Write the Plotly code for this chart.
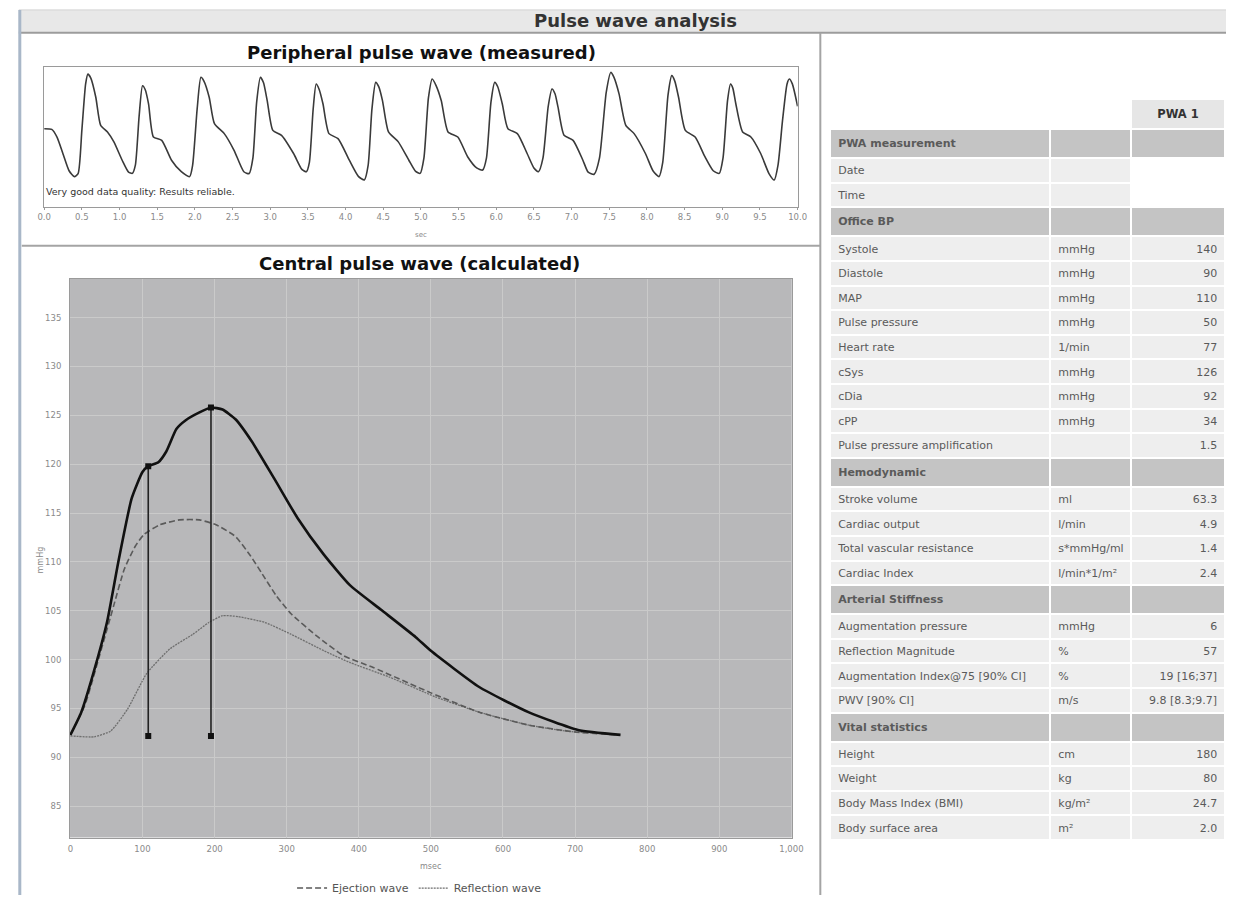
import plotly.graph_objects as go

W, H = 1238, 903
FONT = "DejaVu Sans"


def px(x):
    return x / W


def py(y):
    return 1 - y / H


# ---------------- Peripheral pulse wave (measured) ----------------
per_t = [0.00, 0.10, 0.17, 0.25, 0.33, 0.40, 0.45,
         0.50, 0.55, 0.58,
         0.62, 0.685, 0.75, 0.84, 0.925, 1.035, 1.12, 1.17,
         1.21, 1.26, 1.305,
         1.34, 1.385, 1.45, 1.56, 1.69, 1.82, 1.93,
         1.97, 2.03, 2.08,
         2.12, 2.19, 2.26, 2.39, 2.52, 2.65, 2.72,
         2.77, 2.82, 2.87,
         2.91, 2.96, 3.035, 3.15, 3.31, 3.42, 3.48,
         3.52, 3.57, 3.61,
         3.65, 3.70, 3.78, 3.90, 4.05, 4.17, 4.25,
         4.30, 4.35, 4.40,
         4.44, 4.49, 4.57, 4.70, 4.84, 4.93, 4.99,
         5.04, 5.10, 5.15,
         5.20, 5.27, 5.36, 5.49, 5.62, 5.74, 5.82,
         5.87, 5.93, 5.98,
         6.02, 6.08, 6.155, 6.28, 6.41, 6.50, 6.56,
         6.62, 6.69, 6.74,
         6.78, 6.82, 6.90, 7.02, 7.15, 7.22, 7.30,
         7.37, 7.46, 7.52,
         7.56, 7.63, 7.72, 7.83, 7.98, 8.08, 8.16,
         8.21, 8.28, 8.33,
         8.37, 8.42, 8.51, 8.64, 8.77, 8.88, 8.96,
         9.01, 9.07, 9.11,
         9.14, 9.18, 9.27, 9.38, 9.51, 9.62, 9.69,
         9.74, 9.80, 9.86, 9.89,
         9.93, 10.0]
per_v = [56, 55.5, 50, 38, 26, 21.8, 24,
         55, 88, 95,
         92, 78.5, 58.4, 53.7, 46.6, 33.5, 25, 24.1,
         30, 65, 86.7,
         84, 73.8, 50.1, 47.7, 33.5, 25.3, 21.8,
         30, 70, 92.7,
         90, 78.5, 59.6, 52.5, 40.6, 25.3, 24,
         35, 75, 92.7,
         89, 76.1, 54.8, 51.3, 38.3, 27, 25.3,
         32, 70, 87.9,
         84, 73.8, 52.5, 48.9, 33.5, 22, 19.4,
         30, 70, 89.1,
         86, 76.1, 53.7, 46.6, 33.5, 25.5, 24.1,
         35, 78, 91.5,
         87, 76.1, 53.7, 50.1, 36, 28, 26.5,
         35, 75, 89.1,
         86, 73.8, 56, 52.5, 38.3, 28, 25.3,
         35, 72, 84.4,
         81, 71.4, 51.3, 47.7, 33.5, 25, 23.5,
         35, 82, 96.2,
         93, 80.9, 58.4, 52.5, 38.3, 26, 21.8,
         32, 80, 93.9,
         90, 78.5, 54.8, 50.1, 36, 26, 24.1,
         35, 76, 87.9,
         85, 73.8, 53.7, 50.1, 38.3, 24, 19.4,
         30, 61.9, 88, 91.5,
         88, 72]

# ---------------- Central pulse wave (calculated) ----------------
cen_t = [0, 15, 33, 51, 67, 85, 100, 108, 122, 133, 147, 160, 179, 195, 211,
         229, 251, 283, 315, 351, 388, 431, 479, 500, 567, 636, 704, 763]
cen_p = [92.3, 94.6, 98.9, 103.9, 110.2, 116.5, 119.2, 119.8, 120.2, 121.3,
         123.6, 124.5, 125.3, 125.8, 125.6, 124.6, 122.4, 118.5, 114.5, 110.8,
         107.6, 105.1, 102.3, 100.9, 97.2, 94.6, 92.8, 92.3]

eje_t = [0, 20, 40, 60, 75, 90, 102, 124, 151, 179, 202, 229, 250, 265, 285,
         306, 342, 379, 420, 500, 568, 636, 700, 760]
eje_p = [92.3, 95.3, 100.3, 105.5, 109.3, 111.6, 112.8, 113.8, 114.3, 114.3,
         113.8, 112.6, 110.6, 108.9, 106.6, 104.7, 102.4, 100.4, 99.2, 96.6,
         94.6, 93.3, 92.6, 92.3]

ref_t = [0, 33, 56, 79, 106, 138, 170, 192, 211, 233, 270, 306, 352, 388, 443,
         506, 568, 636, 686, 760]
ref_p = [92.2, 92.1, 92.7, 94.9, 98.6, 101.1, 102.6, 103.8, 104.5, 104.4,
         103.8, 102.6, 100.9, 99.7, 98.2, 96.2, 94.6, 93.3, 92.7, 92.3]

mark_t = [108, 195]
mark_top = [119.8, 125.8]
mark_base = 92.2

# ---------------- Table ----------------
tbl_label = ["PWA measurement", "Date", "Time", "Office BP", "Systole", "Diastole",
             "MAP", "Pulse pressure", "Heart rate", "cSys", "cDia", "cPP",
             "Pulse pressure amplification", "Hemodynamic", "Stroke volume",
             "Cardiac output", "Total vascular resistance", "Cardiac Index",
             "Arterial Stiffness", "Augmentation pressure", "Reflection Magnitude",
             "Augmentation Index@75 [90% CI]", "PWV [90% CI]", "Vital statistics",
             "Height", "Weight", "Body Mass Index (BMI)", "Body surface area"]
tbl_unit = ["", "", "", "", "mmHg", "mmHg", "mmHg", "mmHg", "1/min", "mmHg", "mmHg",
            "mmHg", "", "", "ml", "l/min", "s*mmHg/ml", "l/min*1/m²", "", "mmHg", "%",
            "%", "m/s", "", "cm", "kg", "kg/m²", "m²"]
tbl_value = ["", "", "", "", "140", "90", "110", "50", "77", "126", "92", "34", "1.5",
             "", "63.3", "4.9", "1.4", "2.4", "", "6", "57", "19 [16;37]",
             "9.8 [8.3;9.7]", "", "180", "80", "24.7", "2.0"]
tbl_section = ["PWA measurement", "Office BP", "Hemodynamic", "Arterial Stiffness",
               "Vital statistics"]
tbl_blank_value = ["Date", "Time"]

fig = go.Figure()

# peripheral wave
fig.add_trace(go.Scatter(
    x=per_t, y=per_v, mode="lines", xaxis="x", yaxis="y", showlegend=False,
    line=dict(color="#3a3a3a", width=1.6, shape="spline", smoothing=0.6),
    hoverinfo="skip"))

# central waves
fig.add_trace(go.Scatter(
    x=ref_t, y=ref_p, mode="lines", name="Reflection wave", xaxis="x2", yaxis="y2",
    line=dict(color="#6e6e6e", width=1.3, dash="2px,1px", shape="spline", smoothing=0.5)))
fig.add_trace(go.Scatter(
    x=eje_t, y=eje_p, mode="lines", name="Ejection wave", xaxis="x2", yaxis="y2",
    line=dict(color="#5a5a5a", width=1.6, dash="6px,3px", shape="spline", smoothing=0.5)))
fig.add_trace(go.Scatter(
    x=cen_t, y=cen_p, mode="lines", name="Central wave", xaxis="x2", yaxis="y2",
    showlegend=False,
    line=dict(color="#111111", width=2.6, shape="spline", smoothing=0.5)))
for t, top in zip(mark_t, mark_top):
    fig.add_trace(go.Scatter(
        x=[t, t], y=[mark_base, top], mode="lines+markers", xaxis="x2", yaxis="y2",
        showlegend=False, line=dict(color="#222222", width=1.6),
        marker=dict(symbol="square", size=6, color="#111111")))

# table
fill_rows = []
for lab in tbl_label:
    fill_rows.append("#c4c4c4" if lab in tbl_section else "#eeeeee")
fill_vals = []
for lab in tbl_label:
    if lab in tbl_section:
        fill_vals.append("#c4c4c4")
    elif lab in tbl_blank_value:
        fill_vals.append("#ffffff")
    else:
        fill_vals.append("#eeeeee")
labels_fmt = ["<b>%s</b>" % lab if lab in tbl_section else lab for lab in tbl_label]

fig.add_trace(go.Table(
    domain=dict(x=[px(836), px(1238)], y=[0.0, py(100)]),
    columnwidth=[224, 82, 96],
    header=dict(values=["", "", "<b>PWA 1</b>"],
                fill_color=["#ffffff", "#ffffff", "#e6e6e6"],
                line=dict(color="white", width=2),
                align=["left", "left", "center"],
                font=dict(family=FONT, size=11.5, color="#333333"), height=22),
    cells=dict(values=[labels_fmt, tbl_unit, tbl_value],
               fill_color=[fill_rows, fill_rows, fill_vals],
               line=dict(color="white", width=2),
               align=["left", "left", "right"],
               font=dict(family=FONT, size=11, color="#5a5a5a"), height=24.6)))

axis_font = dict(family=FONT, size=8.5, color="#8a8a8a")

fig.update_layout(
    width=W, height=H, margin=dict(l=0, r=0, t=0, b=0),
    paper_bgcolor="white", plot_bgcolor="white",
    font=dict(family=FONT),
    xaxis=dict(domain=[px(37.7), px(803)], range=[-0.001, 10.001], dtick=0.5, tick0=0,
               tickformat=".1f", showgrid=False, zeroline=False, showline=True,
               mirror=True, linecolor="#9a9a9a", linewidth=1, ticks="outside",
               ticklen=2, tickcolor="#9a9a9a", tickfont=axis_font, anchor="y",
               fixedrange=True),
    yaxis=dict(domain=[py(209), py(67.7)], range=[0, 100], showticklabels=False,
               showgrid=False, zeroline=False, showline=True, mirror=True,
               linecolor="#9a9a9a", linewidth=1, anchor="x", fixedrange=True),
    xaxis2=dict(domain=[px(64), px(797)], range=[-0.5, 1000.5], dtick=100, tick0=0,
                tickformat=",", showgrid=True, gridcolor="#cacaca", gridwidth=1,
                zeroline=False, showline=True, mirror=True, linecolor="#9a9a9a",
                linewidth=1, ticks="", tickfont=axis_font, anchor="y2",
                ticklabelstandoff=3),
    yaxis2=dict(domain=[py(845), py(281)], range=[81.8, 139], dtick=5, tick0=85,
                showgrid=True, gridcolor="#cacaca", gridwidth=1, zeroline=False,
                showline=True, mirror=True, linecolor="#9a9a9a", linewidth=1,
                ticks="", tickfont=axis_font, anchor="x2", ticklabelstandoff=6),
    legend=dict(orientation="h", x=px(419), xanchor="center", y=py(896),
                yanchor="middle", font=dict(family=FONT, size=11, color="#555555"),
                bgcolor="rgba(0,0,0,0)", traceorder="reversed",
                itemwidth=30),
)

# plot background for central chart
fig.add_shape(type="rect", xref="x2 domain", yref="y2 domain", x0=0, x1=1, y0=0, y1=1,
              fillcolor="#b8b8ba", line=dict(width=0), layer="below")

# decorative frame
fig.add_shape(type="rect", xref="paper", yref="paper", x0=px(12), x1=1.0,
              y0=py(33), y1=py(10), fillcolor="#e8e8e8", line=dict(width=0))
fig.add_shape(type="line", xref="paper", yref="paper", x0=px(12), x1=1.0,
              y0=py(33), y1=py(33), line=dict(color="#9c9c9c", width=2))
fig.add_shape(type="line", xref="paper", yref="paper", x0=px(12), x1=1.0,
              y0=py(10), y1=py(10), line=dict(color="#d4d4d4", width=1))
fig.add_shape(type="line", xref="paper", yref="paper", x0=px(13), x1=px(13),
              y0=0, y1=py(10), line=dict(color="#a9b7c8", width=3))
fig.add_shape(type="line", xref="paper", yref="paper", x0=px(826), x1=px(826),
              y0=0, y1=py(33), line=dict(color="#a4a4a4", width=2))
fig.add_shape(type="line", xref="paper", yref="paper", x0=px(15), x1=px(826),
              y0=py(248), y1=py(248), line=dict(color="#a4a4a4", width=2))

ann = [
    dict(text="<b>Pulse wave analysis</b>", x=px(638), y=py(21),
         font=dict(size=18, color="#333333")),
    dict(text="<b>Peripheral pulse wave (measured)</b>", x=px(421), y=py(53),
         font=dict(size=18, color="#111111")),
    dict(text="<b>Central pulse wave (calculated)</b>", x=px(419), y=py(266),
         font=dict(size=18, color="#111111")),
    dict(text="Very good data quality: Results reliable.", x=px(38), y=py(193),
         xanchor="left", font=dict(size=9.5, color="#333333")),
    dict(text="sec", x=px(420), y=py(237), font=dict(size=7, color="#888888")),
    dict(text="msec", x=px(430), y=py(874), font=dict(size=8, color="#888888")),
    dict(text="mmHg", x=px(35), y=py(565), textangle=-90,
         font=dict(size=8, color="#888888")),
]
for a in ann:
    a.setdefault("xanchor", "center")
    fig.add_annotation(xref="paper", yref="paper", showarrow=False, yanchor="middle",
                       font_family=FONT, **{k: v for k, v in a.items()})

post = (
    "var de=document.documentElement, b=document.body;"
    "de.style.margin='0';de.style.padding='0';de.style.overflow='hidden';"
    "b.style.margin='0';b.style.padding='0';b.style.overflow='hidden';"
)

fig.write_html("out.html", config={"displayModeBar": False}, post_script=post)
